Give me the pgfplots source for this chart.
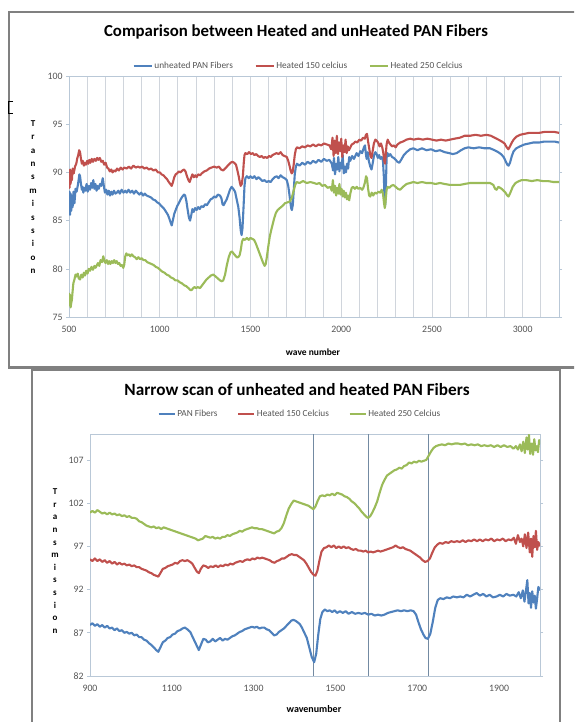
\documentclass[border=0pt]{standalone}
\usepackage{pgfplots}
\pgfplotsset{compat=1.18}
\usepackage{fontspec}
\setmainfont{Carlito}
\definecolor{xblue}{RGB}{79,129,189}
\definecolor{xred}{RGB}{192,80,77}
\definecolor{xgreen}{RGB}{155,187,89}
\definecolor{framec}{RGB}{128,128,128}
\definecolor{pborder}{RGB}{185,200,215}
\definecolor{gridc}{RGB}{208,213,220}
\definecolor{ticklab}{RGB}{85,85,85}
\definecolor{vline}{RGB}{115,138,162}
\pgfplotsset{
  excel/.style={
    scale only axis,
    axis line style={pborder, line width=0.8pt},
    tick align=outside,
    major tick length=3pt,
    ytick style={draw=pborder, line width=0.6pt},
    xtick style={draw=none},
    ticklabel style={font=\fontsize{9.8}{11}\selectfont, text=ticklab},
    xticklabel style={yshift=-3pt},
    /pgf/number format/assume math mode=true,
    /pgf/number format/1000 sep={},
    scaled ticks=false,
    legend columns=3,
    every axis plot/.append style={line width=2.1pt, line join=round},
  }
}
\begin{document}
\begin{tikzpicture}
\useasboundingbox (0pt,0pt) rectangle (574pt,-722pt);
\clip (0pt,0pt) rectangle (574pt,-722pt);
\fill[white] (0pt,0pt) rectangle (574pt,-722pt);
\draw[framec, line width=2.2pt] (600pt,-12pt) -- (9pt,-12pt) -- (9pt,-367.5pt) -- (600pt,-367.5pt);
\draw[framec, line width=2.2pt] (32pt,-760pt) -- (32pt,-370pt) -- (560pt,-370pt) -- (560pt,-760pt);
\draw[black, line width=0.8pt] (13pt,-101pt) -- (8pt,-101pt) -- (8pt,-113pt) -- (13pt,-113pt);

\node[font=\bfseries\fontsize{16.8}{19}\selectfont, text=black] at (296pt,-32pt) {Comparison between Heated and unHeated PAN Fibers};
\node[font=\bfseries\fontsize{9}{13.4}\selectfont, align=center] at (33pt,-197pt) {T\\r\\a\\n\\s\\m\\i\\s\\s\\i\\o\\n};
\node[font=\bfseries\fontsize{9.5}{11}\selectfont] at (313pt,-352pt) {wave number};

\begin{axis}[excel,
  at={(69pt,-76pt)}, anchor=north west, width=490pt, height=241pt,
  xmin=500, xmax=3200, ymin=75, ymax=100,
  xtick={500,1000,...,3000}, ytick={75,80,...,100},
  minor xtick={600,700,...,3200},
  xmajorgrids, xminorgrids,
  major grid style={gridc, line width=0.8pt},
  minor grid style={gridc, line width=0.8pt},
  minor tick length=0pt,
  legend image code/.code={\draw[#1] (0pt,0pt) -- (18pt,0pt);},
  legend image post style={line width=1.4pt},
  legend style={at={(0.469,1.0415)}, anchor=center, draw=none, fill=none,
    font=\fontsize{9.3}{10}\selectfont, text=ticklab, inner sep=0pt,
    /tikz/every even column/.append style={column sep=20pt}},
]
\addplot[xblue] coordinates {(500,86.0) (503,88.0) (506,85.6) (509,87.8) (512,86.0) (516,87.6) (520,86.4) (525,88.0) (530,86.8) (536,88.3) (542,88.0) (548,88.6) (553,89.2) (557,89.8) (561,89.6) (566,88.8) (571,88.2) (575,88.5) (579,87.9) (584,88.4) (590,88.1) (597,88.8) (603,88.0) (609,88.6) (616,88.2) (622,88.9) (628,88.4) (634,89.2) (640,88.3) (646,88.8) (652,88.1) (658,88.6) (664,88.3) (671,88.8) (678,88.6) (686,89.4) (692,88.6) (698,87.9) (705,88.2) (712,87.7) (719,88.1) (726,87.6) (733,88.0) (740,87.7) (748,88.1) (756,87.8) (763,87.9) (772,88.1) (780,87.8) (790,88.2) (800,87.9) (810,88.1) (818,87.9) (828,88.2) (838,87.9) (848,88.1) (858,87.8) (868,88.1) (878,87.9) (888,87.7) (898,87.9) (908,87.6) (918,87.8) (928,87.6) (940,87.5) (952,87.4) (963,87.2) (975,87.1) (985,86.9) (995,86.8) (1005,86.6) (1015,86.4) (1025,86.2) (1035,85.9) (1045,85.6) (1053,85.2) (1060,84.8) (1066,84.5) (1072,85.0) (1080,85.7) (1088,86.1) (1096,86.5) (1105,86.8) (1115,87.2) (1125,87.5) (1134,87.7) (1140,87.6) (1147,87.0) (1154,86.1) (1161,85.3) (1167,85.0) (1174,85.6) (1180,86.2) (1187,85.9) (1195,86.3) (1203,86.1) (1212,86.4) (1220,86.2) (1230,86.5) (1240,86.4) (1250,86.7) (1260,86.6) (1270,86.9) (1280,87.2) (1290,87.3) (1300,87.5) (1310,87.4) (1320,87.7) (1332,87.6) (1340,87.3) (1346,86.7) (1352,86.6) (1360,86.9) (1369,87.2) (1378,87.7) (1387,88.2) (1396,88.5) (1405,88.3) (1415,88.0) (1424,87.2) (1433,86.4) (1440,85.3) (1446,84.0) (1451,83.5) (1456,84.2) (1462,86.5) (1467,88.6) (1472,89.4) (1480,89.6) (1490,89.4) (1500,89.6) (1511,89.4) (1522,89.6) (1533,89.3) (1544,89.5) (1555,89.3) (1566,89.1) (1577,89.2) (1589,89.0) (1600,89.1) (1611,89.0) (1622,89.3) (1633,89.5) (1644,89.6) (1655,89.4) (1666,89.7) (1677,89.5) (1688,89.4) (1700,89.2) (1708,88.6) (1714,87.8) (1719,87.0) (1724,86.3) (1728,86.1) (1733,86.6) (1738,88.0) (1744,89.8) (1750,90.6) (1756,90.9) (1770,90.7) (1785,91.0) (1800,90.8) (1815,91.1) (1830,90.9) (1845,91.2) (1860,91.0) (1875,91.3) (1890,91.1) (1905,91.4) (1920,91.2) (1935,91.3) (1948,90.9) (1955,90.2) (1960,91.5) (1966,89.8) (1972,90.9) (1978,90.3) (1984,91.6) (1990,90.1) (1996,91.0) (2002,90.4) (2008,91.8) (2014,89.9) (2020,90.6) (2026,90.0) (2032,90.9) (2038,90.4) (2044,91.6) (2050,91.2) (2060,91.7) (2070,91.4) (2085,92.0) (2095,91.7) (2105,92.2) (2115,92.0) (2125,92.6) (2131,92.8) (2136,91.9) (2140,91.4) (2146,92.1) (2152,91.2) (2160,90.6) (2167,90.3) (2174,91.0) (2181,91.8) (2188,92.1) (2195,91.9) (2202,91.5) (2209,91.8) (2216,91.4) (2223,91.6) (2230,91.2) (2235,89.5) (2239,87.0) (2242,86.5) (2246,88.5) (2250,91.5) (2255,92.0) (2262,91.7) (2270,91.9) (2280,91.6) (2290,91.5) (2300,91.3) (2310,91.1) (2320,91.0) (2330,91.3) (2345,91.8) (2360,92.1) (2380,92.4) (2397,92.5) (2420,92.3) (2445,92.5) (2470,92.3) (2495,92.4) (2520,92.2) (2544,92.3) (2570,92.1) (2595,92.0) (2615,91.9) (2636,92.0) (2660,92.3) (2680,92.5) (2700,92.6) (2730,92.5) (2760,92.6) (2790,92.5) (2820,92.5) (2845,92.3) (2865,92.1) (2880,91.9) (2895,91.6) (2905,91.2) (2915,90.8) (2922,90.7) (2930,91.0) (2940,91.7) (2950,92.2) (2965,92.5) (2985,92.7) (3010,92.9) (3035,93.0) (3058,93.1) (3090,93.1) (3120,93.2) (3150,93.2) (3175,93.2) (3200,93.1)};
\addlegendentry{unheated PAN Fibers}
\addplot[xred] coordinates {(500,90.1) (503,88.4) (506,90.3) (509,88.8) (512,90.0) (516,89.2) (520,90.4) (526,89.9) (533,90.6) (540,90.9) (546,91.5) (551,91.8) (556,92.3) (561,92.1) (566,91.4) (571,90.9) (576,91.2) (582,90.7) (588,91.0) (594,90.8) (600,91.2) (606,90.9) (612,91.3) (618,91.0) (625,91.4) (632,91.1) (640,91.4) (648,91.2) (655,91.5) (662,91.3) (670,91.5) (678,91.1) (686,91.2) (694,90.8) (702,91.0) (710,90.5) (717,90.4) (725,90.1) (733,90.3) (740,90.0) (748,90.2) (756,90.1) (765,90.4) (775,90.2) (785,90.5) (795,90.3) (805,90.5) (818,90.4) (830,90.6) (842,90.4) (855,90.7) (868,90.5) (880,90.6) (891,90.5) (903,90.6) (915,90.4) (928,90.5) (940,90.3) (952,90.4) (965,90.2) (978,90.3) (990,90.0) (1000,90.0) (1010,89.8) (1020,89.7) (1030,89.5) (1040,89.3) (1050,89.0) (1058,88.8) (1066,88.6) (1073,89.0) (1080,89.5) (1088,89.8) (1096,89.9) (1105,90.1) (1115,90.0) (1125,90.2) (1134,90.3) (1142,90.1) (1150,89.6) (1158,89.2) (1165,89.0) (1172,89.4) (1180,89.8) (1188,89.5) (1196,89.7) (1203,89.5) (1212,89.8) (1222,89.7) (1232,89.9) (1245,90.1) (1259,90.2) (1272,90.4) (1285,90.5) (1300,90.6) (1314,90.5) (1326,90.6) (1338,90.3) (1350,90.2) (1360,90.4) (1370,90.6) (1380,90.8) (1390,91.0) (1400,91.1) (1410,91.0) (1420,90.8) (1428,90.2) (1435,89.6) (1441,89.0) (1446,88.6) (1452,88.8) (1458,89.6) (1463,91.0) (1467,91.8) (1472,92.0) (1482,91.9) (1492,92.1) (1502,91.9) (1512,92.0) (1522,91.8) (1532,91.9) (1542,91.7) (1552,91.6) (1562,91.7) (1572,91.5) (1582,91.6) (1592,91.5) (1602,91.7) (1612,91.6) (1622,91.8) (1632,91.9) (1644,92.0) (1655,91.9) (1666,92.1) (1677,91.8) (1688,91.7) (1700,91.6) (1708,91.2) (1715,90.7) (1721,90.2) (1727,89.9) (1732,90.0) (1738,90.8) (1744,91.8) (1750,92.4) (1756,92.6) (1770,92.5) (1785,92.7) (1800,92.6) (1815,92.8) (1830,92.7) (1845,92.9) (1860,92.7) (1875,92.9) (1890,92.8) (1905,93.0) (1920,92.9) (1935,92.8) (1945,92.4) (1952,93.6) (1958,91.7) (1964,93.3) (1970,92.0) (1976,93.8) (1982,91.9) (1988,93.1) (1994,92.2) (2000,93.5) (2006,91.6) (2012,92.8) (2018,92.1) (2024,93.4) (2030,92.0) (2036,92.7) (2042,92.3) (2048,92.5) (2058,92.9) (2068,93.0) (2078,93.2) (2088,93.1) (2100,93.4) (2110,93.3) (2120,93.6) (2130,93.5) (2136,93.9) (2142,94.0) (2148,93.2) (2155,92.4) (2161,91.7) (2167,91.5) (2173,92.2) (2180,93.0) (2188,93.4) (2195,93.3) (2203,93.1) (2211,92.7) (2219,93.0) (2226,92.6) (2232,92.0) (2237,91.2) (2241,90.9) (2245,91.8) (2250,92.9) (2256,93.4) (2263,93.1) (2271,92.9) (2280,92.7) (2290,92.8) (2300,92.6) (2310,92.9) (2325,93.1) (2340,93.2) (2360,93.4) (2380,93.5) (2400,93.4) (2425,93.5) (2450,93.4) (2475,93.5) (2500,93.4) (2525,93.3) (2550,93.4) (2575,93.3) (2600,93.4) (2625,93.5) (2654,93.6) (2680,93.8) (2710,93.8) (2740,93.9) (2770,93.8) (2800,93.9) (2825,93.8) (2845,93.6) (2866,93.4) (2885,93.2) (2900,93.0) (2912,92.6) (2921,92.4) (2930,92.7) (2940,93.1) (2950,93.4) (2965,93.7) (2985,93.9) (3010,94.0) (3035,94.1) (3060,94.1) (3090,94.1) (3120,94.2) (3150,94.2) (3175,94.2) (3200,94.1)};
\addlegendentry{Heated 150 celcius}
\addplot[xgreen] coordinates {(500,77.5) (503,76.2) (506,77.3) (509,76.0) (512,76.4) (516,76.8) (520,77.7) (524,78.5) (530,78.9) (536,79.4) (542,79.2) (548,79.5) (554,79.0) (561,78.9) (568,79.4) (575,79.1) (582,79.6) (588,79.3) (595,79.8) (602,79.5) (609,80.0) (616,79.8) (624,80.2) (632,79.9) (640,80.3) (646,80.1) (652,80.3) (660,80.6) (667,80.3) (674,80.9) (682,80.7) (689,81.3) (695,80.8) (701,80.6) (708,80.9) (715,80.5) (721,80.8) (728,80.5) (735,80.8) (742,80.6) (749,80.9) (756,80.6) (763,80.8) (770,80.5) (777,80.6) (784,80.3) (791,80.4) (799,80.1) (804,80.4) (810,81.3) (816,81.6) (822,81.4) (830,81.5) (838,81.3) (846,81.5) (855,81.3) (864,81.2) (873,81.0) (882,81.2) (891,81.0) (900,81.1) (910,80.9) (920,80.9) (930,80.7) (942,80.6) (954,80.5) (966,80.4) (978,80.2) (990,80.1) (1002,79.9) (1014,79.7) (1026,79.6) (1038,79.4) (1050,79.3) (1062,79.1) (1074,79.0) (1086,78.8) (1098,78.8) (1110,78.6) (1122,78.5) (1134,78.3) (1146,78.2) (1158,78.0) (1168,77.8) (1176,77.8) (1184,78.0) (1192,78.1) (1200,78.0) (1210,78.1) (1222,78.0) (1234,78.3) (1246,78.6) (1258,78.9) (1270,79.1) (1282,79.3) (1295,79.4) (1308,79.2) (1320,79.0) (1332,78.8) (1342,78.7) (1350,78.8) (1360,79.4) (1370,80.4) (1380,81.2) (1390,81.7) (1398,81.8) (1406,81.6) (1415,81.4) (1424,81.2) (1432,81.2) (1440,81.4) (1447,82.0) (1453,82.8) (1460,83.1) (1470,83.0) (1480,83.2) (1490,83.0) (1500,83.2) (1510,83.1) (1520,83.0) (1530,82.6) (1540,82.1) (1550,81.6) (1560,81.1) (1570,80.6) (1578,80.3) (1584,80.5) (1590,81.2) (1598,82.3) (1606,83.3) (1614,84.0) (1622,84.6) (1630,85.2) (1640,85.8) (1650,86.1) (1662,86.3) (1675,86.5) (1690,86.8) (1705,86.9) (1718,87.0) (1728,87.4) (1738,88.1) (1746,88.7) (1754,89.0) (1770,88.9) (1790,89.1) (1810,88.9) (1830,89.0) (1850,88.9) (1865,88.8) (1880,88.9) (1895,88.6) (1910,88.7) (1925,88.4) (1940,88.5) (1948,88.1) (1954,89.2) (1960,87.9) (1966,88.6) (1972,87.6) (1978,88.4) (1984,87.8) (1990,88.8) (1996,87.7) (2002,88.3) (2008,87.5) (2014,88.1) (2020,87.4) (2026,87.9) (2032,87.2) (2038,87.6) (2044,87.1) (2050,87.8) (2058,88.4) (2066,88.5) (2075,88.3) (2085,88.5) (2095,88.3) (2105,88.4) (2115,88.2) (2122,88.4) (2130,88.9) (2137,89.6) (2142,89.4) (2148,88.3) (2154,87.6) (2160,87.5) (2168,87.9) (2176,87.6) (2185,87.9) (2195,87.8) (2205,88.0) (2215,87.9) (2223,88.2) (2230,87.8) (2236,86.8) (2240,86.3) (2244,86.9) (2250,88.2) (2256,88.5) (2265,88.4) (2275,88.6) (2287,88.7) (2300,88.5) (2312,88.3) (2324,88.2) (2340,88.5) (2360,88.8) (2380,88.9) (2397,89.0) (2420,88.9) (2445,89.0) (2470,88.9) (2495,88.9) (2520,88.8) (2544,88.9) (2570,88.8) (2600,88.7) (2630,88.7) (2654,88.7) (2680,88.8) (2710,88.9) (2740,88.9) (2770,88.9) (2800,88.9) (2820,88.9) (2838,88.7) (2848,88.3) (2856,88.2) (2866,88.5) (2876,88.4) (2890,88.2) (2905,87.9) (2915,87.6) (2922,87.5) (2932,87.9) (2945,88.5) (2960,88.9) (2980,89.1) (2994,89.2) (3020,89.2) (3050,89.1) (3080,89.2) (3110,89.1) (3140,89.1) (3170,89.0) (3200,89.0)};
\addlegendentry{Heated 250 Celcius}
\end{axis}

\node[font=\bfseries\fontsize{17.2}{19}\selectfont, text=black] at (297pt,-390pt) {Narrow scan of unheated and heated PAN Fibers};
\node[font=\bfseries\fontsize{9}{12.6}\selectfont, align=center] at (55pt,-561pt) {T\\r\\a\\n\\s\\m\\i\\s\\s\\i\\o\\n};
\node[font=\bfseries\fontsize{10}{11}\selectfont] at (314pt,-709pt) {wavenumber};

\begin{axis}[excel,
  at={(90pt,-434pt)}, anchor=north west, width=450pt, height=242pt,
  xmin=900, xmax=2000, ymin=82, ymax=110,
  xtick={900,1100,...,1900}, ytick={82,87,...,107},
  legend image code/.code={\draw[#1] (0pt,0pt) -- (16pt,0pt);},
  legend image post style={line width=1.4pt},
  legend style={at={(0.467,1.083)}, anchor=center, draw=none, fill=none,
    font=\fontsize{9.3}{10}\selectfont, text=ticklab, inner sep=0pt,
    /tikz/every even column/.append style={column sep=18pt}},
]
\addplot[vline, line width=0.9pt, forget plot] coordinates {(1447,82) (1447,110)};
\addplot[vline, line width=0.9pt, forget plot] coordinates {(1580,82) (1580,110)};
\addplot[vline, line width=0.9pt, forget plot] coordinates {(1727,82) (1727,110)};
\addplot[xblue] coordinates {(900,87.9) (906,88.1) (912,87.8) (918,88.0) (924,87.7) (930,87.9) (936,87.6) (942,87.8) (948,87.5) (954,87.6) (960,87.3) (966,87.5) (972,87.2) (978,87.3) (984,87.0) (990,87.1) (996,86.9) (1002,87.0) (1008,86.7) (1014,86.8) (1020,86.5) (1026,86.5) (1032,86.2) (1038,86.1) (1044,85.8) (1050,85.6) (1056,85.3) (1062,85.0) (1067,84.8) (1072,85.3) (1078,85.9) (1084,86.1) (1090,86.4) (1096,86.5) (1102,86.8) (1108,86.9) (1114,87.2) (1120,87.3) (1126,87.5) (1132,87.6) (1138,87.4) (1145,87.1) (1150,86.6) (1156,86.0) (1161,85.5) (1166,85.0) (1171,85.6) (1177,86.3) (1183,86.2) (1188,85.9) (1194,86.0) (1200,86.3) (1206,86.0) (1212,86.2) (1218,86.4) (1224,86.1) (1230,86.3) (1236,86.2) (1242,86.4) (1248,86.6) (1254,86.7) (1260,86.9) (1266,87.1) (1272,87.2) (1278,87.4) (1284,87.5) (1290,87.6) (1296,87.7) (1302,87.6) (1308,87.7) (1314,87.5) (1320,87.6) (1326,87.6) (1332,87.4) (1338,87.3) (1344,87.0) (1350,86.7) (1356,86.8) (1362,87.1) (1368,87.3) (1374,87.5) (1380,87.8) (1386,88.1) (1392,88.4) (1397,88.5) (1402,88.4) (1408,88.2) (1413,88.0) (1418,87.6) (1424,87.0) (1430,86.4) (1436,85.3) (1442,84.2) (1448,83.6) (1453,84.6) (1458,86.8) (1463,88.6) (1468,89.4) (1474,89.7) (1480,89.5) (1486,89.6) (1492,89.4) (1498,89.6) (1504,89.3) (1511,89.5) (1518,89.3) (1525,89.5) (1532,89.2) (1540,89.4) (1548,89.2) (1556,89.3) (1564,89.2) (1572,89.3) (1580,89.1) (1588,89.2) (1596,89.0) (1604,89.1) (1612,89.0) (1620,89.1) (1628,89.3) (1636,89.4) (1644,89.5) (1652,89.6) (1660,89.5) (1668,89.6) (1676,89.5) (1684,89.6) (1691,89.5) (1697,89.1) (1703,88.2) (1709,87.4) (1715,86.8) (1720,86.4) (1726,86.3) (1732,86.9) (1738,88.3) (1744,89.9) (1750,90.8) (1756,91.0) (1764,90.9) (1772,91.1) (1780,91.0) (1788,91.2) (1797,91.1) (1805,91.2) (1813,91.1) (1821,91.4) (1829,91.2) (1837,91.4) (1845,91.6) (1853,91.3) (1861,91.5) (1869,91.2) (1877,91.4) (1885,91.1) (1894,91.2) (1902,91.4) (1910,91.2) (1918,91.5) (1926,91.3) (1935,91.4) (1942,91.2) (1948,91.7) (1953,91.0) (1958,91.9) (1962,90.6) (1966,92.0) (1969,93.1) (1972,90.4) (1975,91.6) (1978,89.9) (1981,91.8) (1984,90.5) (1987,91.3) (1990,89.8) (1993,91.0) (1996,92.3) (2000,91.9)};
\addlegendentry{PAN Fibers}
\addplot[xred] coordinates {(900,95.5) (906,95.3) (912,95.6) (918,95.3) (924,95.5) (930,95.2) (936,95.4) (942,95.1) (948,95.3) (954,95.0) (960,95.2) (966,94.9) (972,95.1) (978,94.9) (984,95.0) (990,94.8) (996,94.9) (1002,94.7) (1008,94.8) (1014,94.6) (1020,94.6) (1026,94.4) (1032,94.3) (1038,94.2) (1044,94.0) (1050,93.9) (1056,93.7) (1062,93.6) (1067,93.5) (1072,93.9) (1078,94.4) (1084,94.5) (1090,94.7) (1096,94.8) (1102,94.9) (1108,95.1) (1114,95.0) (1120,95.3) (1126,95.4) (1132,95.3) (1138,95.4) (1145,95.2) (1150,95.0) (1156,94.5) (1161,94.1) (1166,93.9) (1171,94.4) (1177,94.8) (1183,94.7) (1189,94.5) (1195,94.7) (1201,94.6) (1207,94.8) (1213,94.6) (1219,94.8) (1225,94.7) (1231,94.9) (1237,94.8) (1243,95.0) (1249,94.9) (1255,95.1) (1261,95.2) (1267,95.3) (1273,95.2) (1279,95.4) (1285,95.5) (1291,95.4) (1297,95.6) (1303,95.5) (1309,95.7) (1315,95.6) (1321,95.7) (1327,95.6) (1333,95.5) (1339,95.4) (1345,95.2) (1351,95.1) (1357,95.3) (1363,95.4) (1369,95.6) (1375,95.6) (1381,95.8) (1387,96.0) (1393,96.1) (1399,96.0) (1405,96.0) (1411,95.8) (1417,95.6) (1423,95.4) (1429,95.0) (1435,94.5) (1441,94.0) (1447,93.7) (1451,93.6) (1456,94.2) (1461,95.4) (1466,96.4) (1472,96.8) (1478,96.9) (1484,97.1) (1490,96.9) (1496,97.1) (1502,96.8) (1508,97.0) (1514,96.8) (1520,97.0) (1526,96.8) (1532,96.9) (1538,96.7) (1544,96.6) (1550,96.7) (1556,96.5) (1562,96.5) (1568,96.4) (1574,96.5) (1580,96.3) (1586,96.4) (1592,96.3) (1598,96.4) (1604,96.5) (1610,96.4) (1617,96.5) (1623,96.6) (1629,96.7) (1635,96.8) (1641,96.9) (1647,97.1) (1653,96.9) (1659,96.8) (1665,96.9) (1671,96.7) (1677,96.6) (1683,96.5) (1689,96.3) (1695,96.1) (1701,95.9) (1707,95.7) (1713,95.4) (1719,95.2) (1725,95.3) (1731,95.6) (1737,96.3) (1743,96.9) (1749,97.2) (1755,97.4) (1762,97.3) (1769,97.5) (1776,97.4) (1783,97.6) (1790,97.5) (1797,97.6) (1804,97.5) (1811,97.7) (1818,97.5) (1825,97.7) (1832,97.6) (1839,97.8) (1846,97.6) (1853,97.8) (1860,97.6) (1867,97.8) (1874,97.7) (1881,97.9) (1888,97.6) (1895,97.8) (1902,97.7) (1909,97.9) (1916,97.6) (1923,97.8) (1930,97.7) (1936,98.0) (1941,97.3) (1946,98.3) (1951,97.5) (1955,97.9) (1959,97.0) (1963,98.4) (1967,96.8) (1971,98.6) (1975,96.3) (1978,97.9) (1981,95.8) (1984,98.2) (1987,96.9) (1990,98.8) (1993,96.6) (1996,97.5) (2000,97.0)};
\addlegendentry{Heated 150 Celcius}
\addplot[xgreen] coordinates {(900,100.9) (906,101.1) (912,100.9) (918,101.2) (924,101.0) (930,100.8) (936,100.9) (942,100.7) (948,100.9) (954,100.7) (960,100.8) (966,100.6) (972,100.7) (978,100.5) (984,100.6) (990,100.4) (996,100.5) (1002,100.3) (1008,100.3) (1014,100.2) (1020,99.9) (1026,99.8) (1032,99.6) (1038,99.4) (1044,99.3) (1050,99.2) (1056,99.3) (1062,99.1) (1068,99.2) (1074,99.0) (1080,99.2) (1086,99.1) (1092,99.0) (1098,98.9) (1104,98.8) (1110,98.7) (1116,98.6) (1122,98.5) (1128,98.4) (1134,98.3) (1140,98.2) (1146,98.1) (1152,98.0) (1158,97.9) (1164,97.7) (1170,97.8) (1176,97.9) (1182,98.2) (1188,98.1) (1194,98.0) (1200,98.1) (1206,97.9) (1212,98.0) (1218,97.9) (1224,98.1) (1230,98.1) (1236,98.3) (1242,98.2) (1248,98.4) (1254,98.5) (1260,98.6) (1266,98.8) (1272,98.7) (1278,98.9) (1284,99.0) (1290,99.1) (1296,99.2) (1302,99.1) (1308,99.1) (1314,99.0) (1320,99.0) (1326,98.9) (1332,98.8) (1338,98.7) (1344,98.6) (1350,98.5) (1356,98.7) (1362,98.8) (1368,99.1) (1374,99.7) (1380,100.6) (1386,101.4) (1392,101.9) (1398,102.3) (1404,102.2) (1410,102.1) (1416,102.0) (1422,101.9) (1428,101.8) (1434,101.7) (1440,101.5) (1446,101.3) (1451,101.6) (1456,102.2) (1462,102.8) (1468,102.9) (1474,102.8) (1480,103.0) (1486,102.9) (1492,103.1) (1498,102.9) (1504,103.2) (1510,103.1) (1516,103.0) (1522,102.8) (1528,102.7) (1534,102.5) (1540,102.2) (1546,102.0) (1552,101.7) (1558,101.4) (1564,101.0) (1570,100.7) (1576,100.4) (1580,100.3) (1585,100.5) (1590,100.9) (1596,101.5) (1602,102.2) (1608,103.2) (1614,104.1) (1620,104.7) (1626,105.2) (1632,105.4) (1638,105.6) (1644,105.8) (1650,105.9) (1656,106.1) (1662,106.0) (1668,106.3) (1674,106.4) (1680,106.7) (1686,106.6) (1692,106.8) (1698,106.7) (1704,106.9) (1710,106.8) (1716,106.9) (1722,107.0) (1728,107.5) (1734,108.0) (1740,108.4) (1746,108.6) (1752,108.7) (1760,108.8) (1768,108.7) (1776,108.9) (1784,108.8) (1792,108.9) (1800,108.9) (1808,108.8) (1816,108.9) (1824,108.7) (1832,108.8) (1840,108.7) (1848,108.8) (1856,108.6) (1864,108.7) (1872,108.6) (1880,108.7) (1888,108.5) (1896,108.7) (1904,108.5) (1912,108.7) (1920,108.5) (1928,108.6) (1935,108.3) (1941,108.6) (1946,108.2) (1951,108.8) (1955,108.0) (1959,109.1) (1963,107.8) (1967,109.6) (1970,108.2) (1973,109.9) (1976,107.7) (1980,108.9) (1983,107.6) (1986,109.4) (1989,108.1) (1992,108.6) (1995,107.9) (1998,109.3) (2000,108.8)};
\addlegendentry{Heated 250 Celcius}
\end{axis}
\end{tikzpicture}
\end{document}
